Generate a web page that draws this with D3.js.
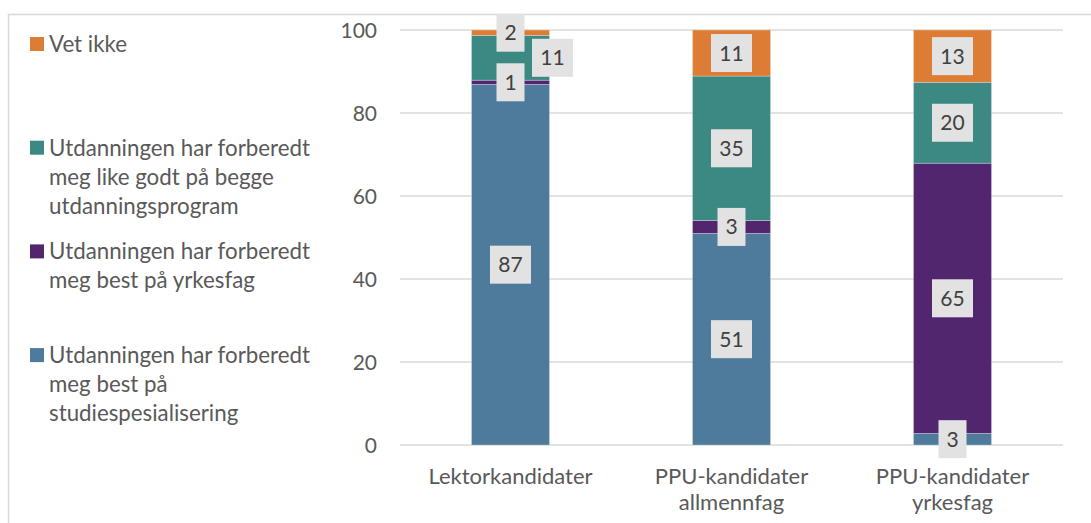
<!DOCTYPE html>
<html><head><meta charset="utf-8">
<script src="https://cdn.jsdelivr.net/npm/d3@7"></script>
<style>html,body{margin:0;padding:0;background:#fff;overflow:hidden}</style>
</head><body>
<svg id="c" width="1091" height="523"></svg>
<script>
const categories = [["Lektorkandidater"], ["PPU-kandidater", "allmennfag"], ["PPU-kandidater", "yrkesfag"]];
const seriesNames = ["Utdanningen har forberedt meg best på studiespesialisering",
  "Utdanningen har forberedt meg best på yrkesfag",
  "Utdanningen har forberedt meg like godt på begge utdanningsprogram",
  "Vet ikke"];
const legendLines = [
  ["Utdanningen har forberedt", "meg best på", "studiespesialisering"],
  ["Utdanningen har forberedt", "meg best på yrkesfag"],
  ["Utdanningen har forberedt", "meg like godt på begge", "utdanningsprogram"],
  ["Vet ikke"]];
const studiespes = [86.9, 51.0, 2.8];
const yrkesfag   = [1.0, 3.1, 65.1];
const likeGodt   = [10.8, 34.8, 19.5];
const vetIkke    = [1.5, 11.1, 12.6];
const yTicks = [0, 20, 40, 60, 80, 100];
const colors = ["#4e7b9b", "#52266f", "#3c8984", "#dd7c35"];

const svg = d3.select("#c");
const font = "Lato, 'Open Sans', sans-serif";
// frame
svg.append("rect").attr("x", 8.5).attr("y", 14.5).attr("width", 1200).attr("height", 600)
  .attr("fill", "none").attr("stroke", "#d9d9d9").attr("stroke-width", 1.5);

const x0 = 400, x1 = 1063, yTop = 30, yBot = 445;
const x = d3.scaleBand().domain(d3.range(categories.length)).range([x0, x1]).paddingInner(0.647).paddingOuter(0.3235);
const y = d3.scaleLinear().domain([0, 100]).range([yBot, yTop]);

// gridlines
svg.append("g").selectAll("line").data(yTicks).join("line")
  .attr("x1", x0).attr("x2", x1).attr("y1", d => y(d)).attr("y2", d => y(d))
  .attr("stroke", "#d9d9d9").attr("stroke-width", 1.5);

// y axis labels
const yAxis = d3.axisLeft(y).tickValues(yTicks).tickSize(0).tickPadding(0);
const ga = svg.append("g").attr("transform", `translate(377,0)`).call(yAxis);
ga.select(".domain").remove();
ga.selectAll("text").attr("font-family", font).attr("font-size", 21).attr("fill", "#595959").attr("dy", "0.35em");

// stack
const table = categories.map((c, i) => ({i, s0: studiespes[i], s1: yrkesfag[i], s2: likeGodt[i], s3: vetIkke[i]}));
const stack = d3.stack().keys(["s0", "s1", "s2", "s3"])(table);

const plot = svg.append("g");
svg.append("clipPath").attr("id", "clip").append("rect").attr("x", x0).attr("y", yTop).attr("width", x1 - x0).attr("height", yBot - yTop);
plot.attr("clip-path", "url(#clip)");
stack.forEach((layer, k) => {
  plot.append("g").selectAll("rect").data(layer).join("rect")
    .attr("x", d => x(d.data.i)).attr("width", x.bandwidth())
    .attr("y", d => y(Math.min(d[1], 100))).attr("height", d => y(d[0]) - y(Math.min(d[1], 100)))
    .attr("fill", colors[k]).attr("stroke", "rgba(255,255,255,0.35)").attr("stroke-width", 0.75);
});

// data labels with simple collision avoidance
const lblG = svg.append("g");
const boxH = 38;
categories.forEach((c, i) => {
  const placed = [];
  stack.forEach((layer, k) => {
    const d = layer[i];
    const v = d[1] - d[0];
    const txt = String(Math.round(v));
    const w = txt.length === 1 ? 28 : 41;
    const cy = y((d[0] + Math.min(d[1], 100)) / 2);
    let cx = x(i) + x.bandwidth() / 2;
    let box = {x: cx - w / 2, y: cy - boxH / 2, w, h: boxH};
    const overlaps = b => placed.some(p => b.x < p.x + p.w && p.x < b.x + b.w && b.y < p.y + p.h && p.y < b.y + b.h);
    if (overlaps(box)) {
      cx = x(i) + x.bandwidth() + 3;
      box = {x: cx - w / 2, y: cy - boxH / 2, w, h: boxH};
    }
    placed.push(box);
    lblG.append("rect").attr("x", box.x).attr("y", box.y).attr("width", w).attr("height", boxH).attr("fill", "#e2e2e2");
    lblG.append("text").attr("x", cx).attr("y", cy).attr("dy", "0.36em").attr("text-anchor", "middle")
      .attr("font-family", font).attr("font-size", 21).attr("fill", "#404040").text(txt);
  });
});

// category labels
const cg = svg.append("g");
categories.forEach((lines, i) => {
  const t = cg.append("text").attr("text-anchor", "middle").attr("font-family", font).attr("font-size", 22).attr("fill", "#595959");
  lines.forEach((l, j) => t.append("tspan").attr("x", x(i) + x.bandwidth() / 2).attr("y", 484 + j * 26).text(l));
});

// legend (reverse order)
const lg = svg.append("g");
[3, 2, 1, 0].forEach((k, idx) => {
  const yy = 44 + idx * 103.7;
  lg.append("rect").attr("x", 30).attr("y", yy - 7).attr("width", 14).attr("height", 14).attr("fill", colors[k]);
  const t = lg.append("text").attr("font-family", font).attr("font-size", 22.3).attr("fill", "#595959");
  legendLines[k].forEach((l, j) => t.append("tspan").attr("x", 49).attr("y", yy + j * 29).attr("dy", "0.36em").text(l));
});
</script>
</body></html>
